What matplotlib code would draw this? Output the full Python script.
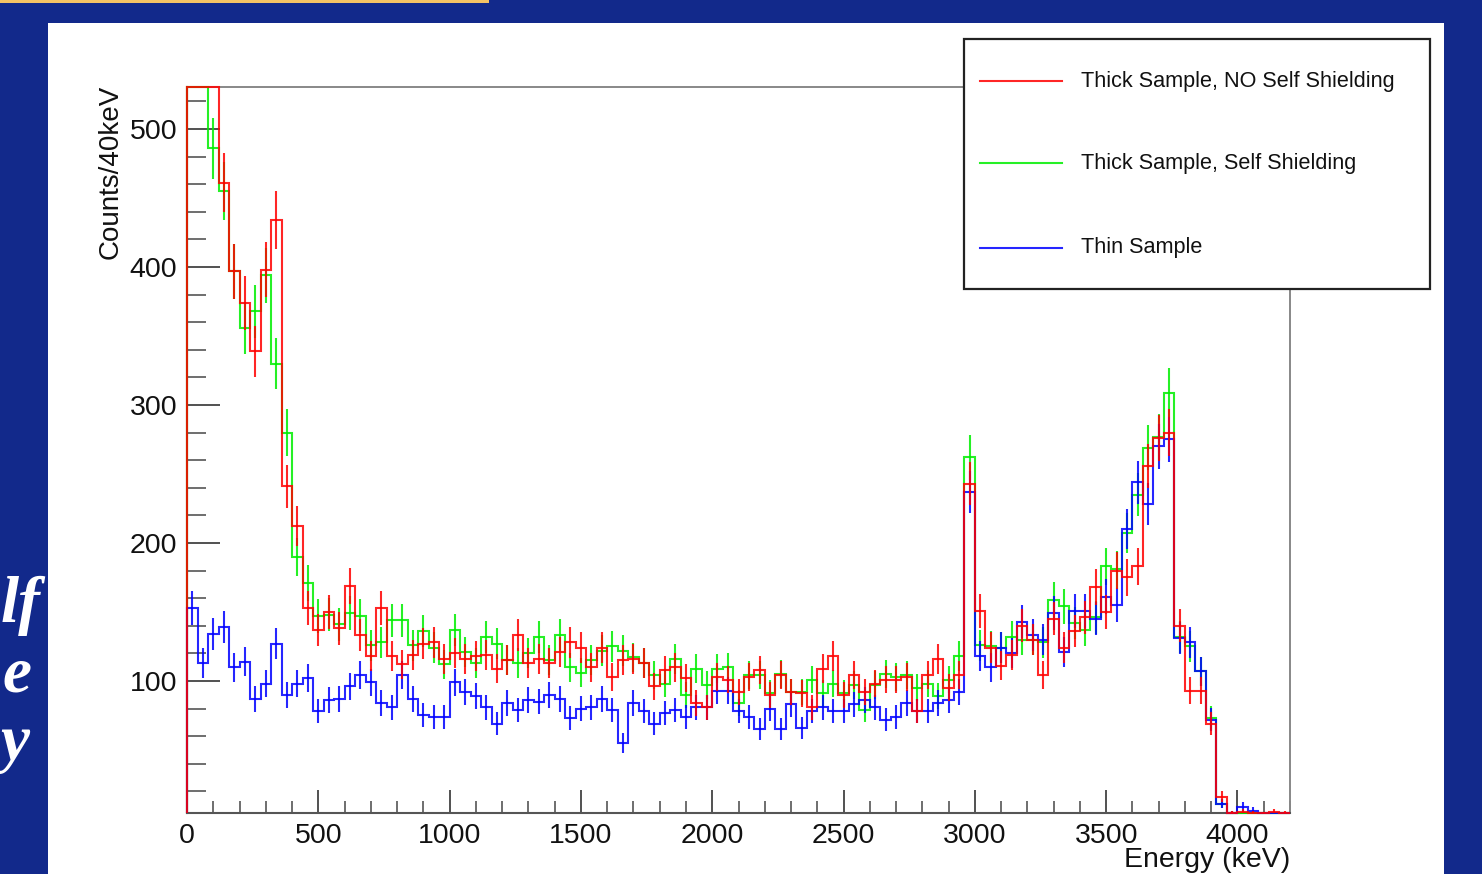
import numpy as np
import matplotlib.pyplot as plt
from matplotlib.patches import Rectangle
from matplotlib.lines import Line2D
from matplotlib.ticker import MultipleLocator

# data: counts per 40 keV bin, 0 - 4200 keV (105 bins)
edges = np.arange(0, 4201, 40)

thick_no_ss = [600, 600, 600, 461, 397, 374, 339, 398, 434, 241, 212, 153, 137, 150, 138,
               169, 133, 118, 153, 118, 112, 119, 127, 128, 116, 120, 116, 118,
               119, 109, 115, 133, 113, 116, 113, 121, 128, 124, 110, 124, 103, 115,
               116, 113, 96, 108, 110, 102, 84, 81, 103, 101, 92, 103, 108, 90,
               104, 92, 91, 81, 109, 118, 90, 104, 92, 98, 101, 101, 103, 78,
               104, 116, 95, 104, 243, 151, 124, 111, 119, 140, 130, 104, 145,
               124, 136, 146, 168, 150, 180, 175, 183, 256, 276, 280, 140, 93,
               93, 69, 16, 4, 5, 4, 3, 5, 4]

thick_ss = [600, 600, 486, 455, 397, 356, 368, 394, 330, 280, 190, 171, 147, 148, 141,
            149, 147, 126, 128, 144, 144, 126, 136, 124, 112, 137, 121, 113,
            132, 127, 115, 113, 120, 132, 115, 133, 110, 106, 115, 122, 125, 122,
            117, 113, 104, 98, 116, 90, 109, 97, 109, 110, 84, 104, 104, 91,
            105, 92, 92, 101, 91, 98, 91, 97, 79, 97, 105, 103, 104, 95,
            98, 89, 101, 118, 262, 126, 125, 124, 132, 130, 130, 128, 159,
            154, 142, 137, 146, 183, 181, 207, 235, 269, 277, 309, 132, 125,
            107, 73, 11, 4, 3, 3, 2, 2, 2]

thin = [153, 113, 134, 139, 110, 114, 87, 98, 127, 90, 98, 102, 78, 86, 87,
        96, 104, 99, 84, 81, 104, 87, 75, 74, 74, 99, 92, 89,
        81, 69, 84, 79, 86, 85, 90, 87, 73, 80, 81, 87, 79, 55,
        84, 78, 69, 77, 79, 74, 81, 81, 93, 93, 78, 74, 65, 80,
        65, 83, 66, 78, 81, 78, 78, 83, 86, 81, 72, 74, 84, 78,
        78, 84, 86, 92, 237, 118, 110, 124, 120, 143, 133, 130, 149,
        121, 151, 151, 145, 161, 155, 210, 244, 228, 270, 275, 131, 128,
        107, 72, 11, 4, 9, 6, 3, 2, 2]

labels = ["Thick Sample, NO Self Shielding", "Thick Sample, Self Shielding", "Thin Sample"]
colors = ["#ff0000", "#00ee00", "#0000ff"]
xticks = [0, 500, 1000, 1500, 2000, 2500, 3000, 3500, 4000]
yticks = [100, 200, 300, 400, 500]

W, H = 1482, 874
def fx(px):
    return px / W
def fy(py):
    return 1 - py / H

plt.rcParams['font.family'] = ['Liberation Sans', 'DejaVu Sans']

fig = plt.figure(figsize=(14.82, 8.74), dpi=100)
fig.patch.set_facecolor('#12298b')

# slide background bits (white panel, yellow bar, cropped slide text)
fig.add_artist(Rectangle((fx(48), 0), fx(1444) - fx(48), fy(23), transform=fig.transFigure,
                         facecolor='white', edgecolor='none', zorder=-1))
fig.add_artist(Rectangle((0, fy(3.3)), fx(489), 3.3 / H, transform=fig.transFigure,
                         facecolor='#f4c365', edgecolor='none', zorder=-1))
for word, xl, yb in [("lf", 1, 622), ("e", 2, 692), ("y", 1, 760)]:
    fig.text(fx(xl), fy(yb), word, ha='left', va='baseline', color='white',
             fontsize=47, fontstyle='italic', fontweight='bold', family='Liberation Serif')

# histogram frame
ylo, yhi = 4.3, 530.4
ax = fig.add_axes([fx(187), fy(813), fx(1290) - fx(187), fy(87) - fy(813)])
ax.set_xlim(0, 4200)
ax.set_ylim(ylo, yhi)
ax.set_facecolor('none')

centers = (edges[:-1] + edges[1:]) / 2
series = [thick_no_ss, thick_ss, thin]
# ROOT-like: out-of-range bins are drawn along the frame
for idx, z in [(1, 3.0), (2, 3.1), (0, 3.2)]:
    v = np.array(series[idx], dtype=float)
    ax.stairs(np.clip(v, ylo, yhi), edges, baseline=ylo, color=colors[idx], lw=1.5,
              alpha=0.85, zorder=z, clip_on=False)
    ax.errorbar(centers, v, yerr=np.sqrt(v), fmt='none', ecolor=colors[idx], elinewidth=1.5,
                capsize=0, alpha=0.85, zorder=z)

ax.set_xticks(xticks)
ax.set_xticklabels([str(t) for t in xticks])
ax.set_yticks(yticks)
ax.set_yticklabels([str(t) for t in yticks])
ax.xaxis.set_minor_locator(MultipleLocator(100))
ax.yaxis.set_minor_locator(MultipleLocator(20))
ax.tick_params(axis='x', which='major', direction='in', length=16.5, width=1.2, color='#333333',
               pad=7, labelsize=20.5, labelcolor='#111111')
ax.tick_params(axis='x', which='minor', direction='in', length=8.6, width=1.2, color='#555555')
ax.tick_params(axis='y', which='major', direction='in', length=23.8, width=1.2, color='#333333',
               pad=7, labelsize=20.5, labelcolor='#111111')
ax.tick_params(axis='y', which='minor', direction='in', length=13.7, width=1.2, color='#555555')
for side in ['top', 'right']:
    ax.spines[side].set_color('#888888')
    ax.spines[side].set_linewidth(1.4)
ax.spines['bottom'].set_color('#555555')
ax.spines['bottom'].set_linewidth(1.5)
ax.spines['left'].set_color('#555555')
ax.spines['left'].set_linewidth(1.5)

fig.text(fx(111), fy(85), "Counts/40keV", rotation=90, ha='center', va='top',
         fontsize=20, color='#111111')
fig.text(fx(1290), fy(867), "Energy (keV)", ha='right', va='baseline',
         fontsize=20.5, color='#111111')

# legend box
fig.add_artist(Rectangle((fx(964), fy(289)), fx(1430) - fx(964), fy(39) - fy(289),
                         transform=fig.transFigure, facecolor='white', edgecolor='#222222',
                         lw=1.6, zorder=5))
for lab, col, yy in zip(labels, colors, [81, 163, 248]):
    fig.add_artist(Line2D([fx(980), fx(1062)], [fy(yy), fy(yy)], transform=fig.transFigure,
                          color=col, lw=1.5, alpha=0.85, zorder=6))
    fig.text(fx(1081), fy(yy), lab, ha='left', va='center', fontsize=15.6,
             color='#111111', zorder=7)

fig.savefig('out.png', dpi=100, facecolor=fig.get_facecolor())
